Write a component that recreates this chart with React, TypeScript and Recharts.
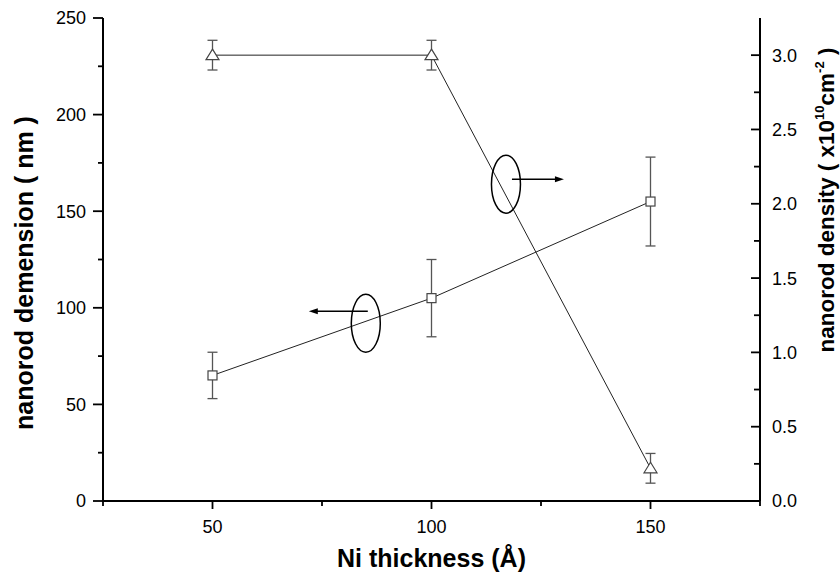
import { LineChart, Line, XAxis, YAxis, ErrorBar, ReferenceDot } from 'recharts'

const thickness = [50, 100, 150]
const dimension = [65, 105, 155]
const dimensionErr = [12, 20, 23]
const density = [3.0, 3.0, 0.22]
const densityErr = [0.1, 0.1, 0.1]

const xTicks = [25, 50, 75, 100, 125, 150, 175]
const xLabels = [50, 100, 150]
const leftTicks = [0, 25, 50, 75, 100, 125, 150, 175, 200, 225, 250]
const leftLabels = [0, 50, 100, 150, 200, 250]
const rightTicks = [0, 0.25, 0.5, 0.75, 1, 1.25, 1.5, 1.75, 2, 2.25, 2.5, 2.75, 3]
const rightLabels = [0, 0.5, 1, 1.5, 2, 2.5, 3]

// ellipse + arrow markers pointing to the axis each curve belongs to
const callouts = [
  { x: 85, y: 92, dir: -1 },
  { x: 117, y: 164, dir: 1 },
]

const data = thickness.map((t, i) => ({
  t,
  dim: dimension[i],
  dimErr: dimensionErr[i],
  den: density[i],
  denErr: densityErr[i],
}))

const FONT = '"Liberation Sans", Arial, sans-serif'

const LeftTick = (props: any) => {
  const { x, y, payload } = props
  const major = leftLabels.includes(payload.value)
  const ax = x + 17
  return (
    <g>
      <line x1={ax - (major ? 10 : 5)} x2={ax} y1={y} y2={y} stroke="#000" strokeWidth={1.8} />
      {major && (
        <text x={x} y={y} dy="0.36em" textAnchor="end" fontSize={18} fontFamily={FONT} fill="#000">
          {payload.value}
        </text>
      )}
    </g>
  )
}

const RightTick = (props: any) => {
  const { x, y, payload } = props
  const major = rightLabels.includes(payload.value)
  const ax = x - 12
  return (
    <g>
      <line x1={ax - (major ? 9 : 6)} x2={ax} y1={y} y2={y} stroke="#000" strokeWidth={1.8} />
      {major && (
        <text x={x} y={y} dy="0.36em" textAnchor="start" fontSize={18} fontFamily={FONT} fill="#000">
          {payload.value.toFixed(1)}
        </text>
      )}
    </g>
  )
}

const BottomTick = (props: any) => {
  const { x, y, payload } = props
  const major = xLabels.includes(payload.value)
  const ay = y - 20
  return (
    <g>
      <line x1={x} x2={x} y1={ay} y2={ay + (major ? 8 : 5)} stroke="#000" strokeWidth={1.8} />
      {major && (
        <text x={x} y={ay + 32} textAnchor="middle" fontSize={18} fontFamily={FONT} fill="#000">
          {payload.value}
        </text>
      )}
    </g>
  )
}

const Square = (props: any) => {
  const { cx, cy } = props
  if (cx == null || cy == null) return null
  return <rect x={cx - 4.5} y={cy - 4.5} width={9} height={9} fill="#fff" stroke="#444" strokeWidth={1.2} />
}

const Triangle = (props: any) => {
  const { cx, cy } = props
  if (cx == null || cy == null) return null
  return (
    <path
      d={`M${cx},${cy - 6} L${cx + 6.5},${cy + 4.5} L${cx - 6.5},${cy + 4.5} Z`}
      fill="#fff"
      stroke="#444"
      strokeWidth={1.2}
    />
  )
}

const Callout = (dir: number) => (props: any) => {
  const { cx, cy } = props
  if (cx == null || cy == null) return null
  const ay = dir < 0 ? cy - 12 : cy - 5
  const x1 = dir < 0 ? cx + 2 : cx + 6
  const x2 = dir < 0 ? cx - 57 : cx + 58
  return (
    <g>
      <ellipse cx={cx} cy={cy} rx={14.5} ry={29} fill="none" stroke="#000" strokeWidth={1.5} />
      <line x1={x1} x2={x2 - dir * 7} y1={ay} y2={ay} stroke="#000" strokeWidth={1.5} />
      <path d={`M${x2},${ay} L${x2 - dir * 9},${ay - 3} L${x2 - dir * 9},${ay + 3} Z`} fill="#000" />
    </g>
  )
}

const LeftTitle = (props: any) => {
  const vb = props.viewBox
  const cx = vb.x + 33
  const cy = 273
  return (
    <text
      x={cx}
      y={cy}
      textAnchor="middle"
      transform={`rotate(-90, ${cx}, ${cy})`}
      fontSize={25}
      fontWeight="bold"
      fontFamily={FONT}
      fill="#000"
    >
      nanorod demension ( nm )
    </text>
  )
}

const RightTitle = (props: any) => {
  const vb = props.viewBox
  const cx = vb.x + 74
  const cy = 200
  return (
    <text
      x={cx}
      y={cy}
      textAnchor="middle"
      transform={`rotate(-90, ${cx}, ${cy})`}
      fontSize={22.5}
      fontWeight="bold"
      fontFamily={FONT}
      fill="#000"
    >
      <tspan>nanorod density ( x10</tspan>
      <tspan dy={-10} fontSize={13}>10</tspan>
      <tspan dy={10}>cm</tspan>
      <tspan dy={-10} fontSize={13}>-2</tspan>
      <tspan dy={10}> )</tspan>
    </text>
  )
}

const BottomTitle = (props: any) => {
  const vb = props.viewBox
  return (
    <text
      x={vb.x + vb.width / 2}
      y={vb.y + 66}
      textAnchor="middle"
      fontSize={25}
      fontWeight="bold"
      fontFamily={FONT}
      fill="#000"
    >
      Ni thickness (Å)
    </text>
  )
}

export default function App() {
  return (
    <div style={{ position: 'absolute', left: 0, top: 0, background: '#fff' }}>
      <LineChart width={840} height={574} data={data} margin={{ top: 18, right: 0, bottom: 0, left: 0 }}>
        <XAxis
          dataKey="t"
          type="number"
          domain={[25, 175]}
          ticks={xTicks}
          interval={0}
          height={73}
          tickSize={0}
          tickMargin={20}
          tick={<BottomTick />}
          axisLine={{ stroke: '#000', strokeWidth: 2 }}
          label={<BottomTitle />}
        />
        <XAxis
          xAxisId="top"
          orientation="top"
          type="number"
          domain={[25, 175]}
          ticks={[]}
          height={0}
          tick={false}
          tickLine={false}
          axisLine={{ stroke: '#000', strokeWidth: 2 }}
        />
        <YAxis
          yAxisId="left"
          domain={[0, 250]}
          ticks={leftTicks}
          interval={0}
          width={103}
          tickSize={0}
          tickMargin={17}
          tick={<LeftTick />}
          axisLine={{ stroke: '#000', strokeWidth: 2 }}
          label={<LeftTitle />}
        />
        <YAxis
          yAxisId="right"
          orientation="right"
          domain={[0, 3.25]}
          ticks={rightTicks}
          interval={0}
          width={80}
          tickSize={0}
          tickMargin={12}
          tick={<RightTick />}
          axisLine={{ stroke: '#000', strokeWidth: 2 }}
          label={<RightTitle />}
        />
        <Line
          yAxisId="left"
          type="linear"
          dataKey="dim"
          stroke="#222"
          strokeWidth={1}
          dot={<Square />}
          activeDot={false}
          isAnimationActive={false}
        >
          <ErrorBar dataKey="dimErr" direction="y" width={5} stroke="#555" strokeWidth={1.3} />
        </Line>
        <Line
          yAxisId="right"
          type="linear"
          dataKey="den"
          stroke="#222"
          strokeWidth={1}
          dot={<Triangle />}
          activeDot={false}
          isAnimationActive={false}
        >
          <ErrorBar dataKey="denErr" direction="y" width={5} stroke="#555" strokeWidth={1.3} />
        </Line>
        {callouts.map((c, i) => (
          <ReferenceDot
            key={i}
            yAxisId="left"
            x={c.x}
            y={c.y}
            r={0}
            ifOverflow="visible"
            shape={Callout(c.dir)}
          />
        ))}
      </LineChart>
    </div>
  )
}
